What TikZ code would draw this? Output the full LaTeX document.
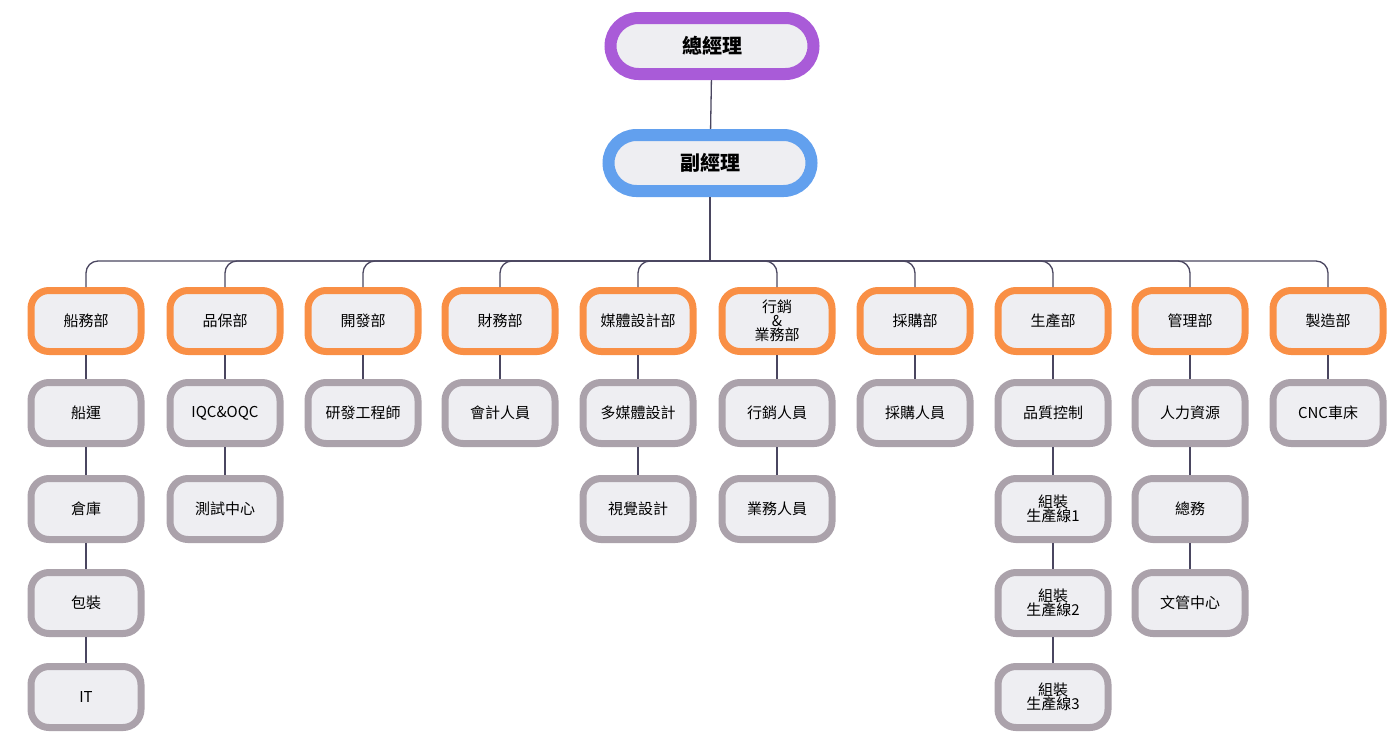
\documentclass[tikz,border=0pt]{standalone}
\usepackage{fontspec}
\setmainfont{Noto Sans CJK TC}
\usetikzlibrary{positioning}
\definecolor{ln}{HTML}{4A4660}
\definecolor{fl}{HTML}{EEEEF2}
\definecolor{org}{HTML}{F98F45}
\definecolor{gry}{HTML}{ABA2AB}
\definecolor{pur}{HTML}{A95BD8}
\definecolor{blu}{HTML}{62A0EE}
\begin{document}
\begin{tikzpicture}[x=1pt,y=-1pt,
 box/.style={draw, fill=fl, line width=7pt, rounded corners=18pt, minimum width=110pt, minimum height=61pt, align=center, font=\fontsize{15}{17}\selectfont, inner sep=1pt},
 dep/.style={box, draw=org},
 sub/.style={box, draw=gry},
 top/.style={draw, fill=fl, line width=12pt, rounded corners=28pt, minimum width=203pt, minimum height=56pt, font=\bfseries\fontsize{20}{22}\selectfont},
 con/.style={draw=ln, line width=1.3pt}]
\useasboundingbox (0,0) rectangle (1400,745);
\node[top, draw=pur] (gm) at (712,46) {總經理};
\node[top, draw=blu] (vm) at (710,163) {副經理};
\draw[con] (gm) -- (vm);
\coordinate (bar) at (710,261);
\draw[con] (vm) -- (bar);
\foreach \x/\n/\t in {86/d1/船務部,225/d2/品保部,363/d3/開發部,500/d4/財務部,638/d5/媒體設計部,777/d6/{行銷\\[-3pt]\&\\[-3pt]業務部},915/d7/採購部,1053/d8/生產部,1190/d9/管理部,1328/d10/製造部}{
  \node[dep] (\n) at (\x,321) {\t};
  \draw[con, rounded corners=12pt] (\n.north) -- (\x,261) -- (bar);
}
\foreach \p/\n/\y/\t in {d1/a1/413/船運,a1/a2/509/倉庫,a2/a3/603/包裝,a3/a4/697/IT,
 d2/b1/413/IQC\&OQC,b1/b2/509/測試中心,
 d3/c1/413/研發工程師, d4/e1/413/會計人員,
 d5/f1/413/多媒體設計,f1/f2/509/視覺設計,
 d6/g1/413/行銷人員,g1/g2/509/業務人員,
 d7/h1/413/採購人員,
 d8/i1/413/品質控制,i1/i2/509/{組裝\\[-3pt]生產線1},i2/i3/603/{組裝\\[-3pt]生產線2},i3/i4/697/{組裝\\[-3pt]生產線3},
 d9/j1/413/人力資源,j1/j2/509/總務,j2/j3/603/文管中心,
 d10/k1/413/CNC車床}{
  \path (\p) ++(0,0) coordinate (tmp);
  \node[sub] (\n) at (\p |- 0,\y) {\t};
  \draw[con] (\p) -- (\n);
}
\end{tikzpicture}
\end{document}
